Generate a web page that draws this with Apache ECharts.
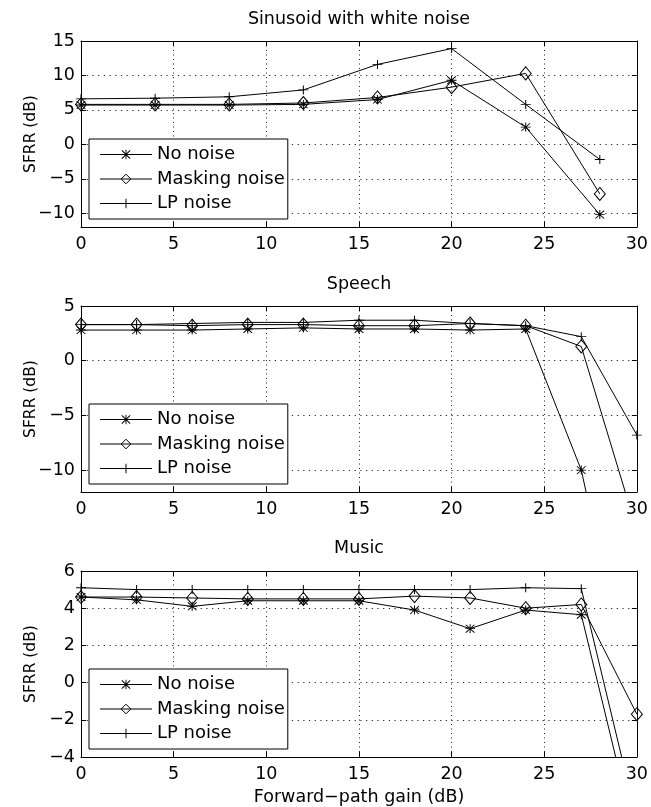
<!DOCTYPE html>
<html>
<head>
<meta charset="utf-8">
<script src="https://cdn.jsdelivr.net/npm/echarts@6/dist/echarts.min.js"></script>
<style>
html,body{margin:0;padding:0;background:#fff;}
#chart{width:651px;height:807px;}
</style>
</head>
<body>
<div id="chart"></div>
<script>
// ---- data ----
const panelTitles = ['Sinusoid with white noise', 'Speech', 'Music'];
const seriesNames = ['No noise', 'Masking noise', 'LP noise'];
const yLabel = 'SFRR (dB)';
const xLabel = 'Forward\u2212path gain (dB)';

const xSinusoid = [0, 4, 8, 12, 16, 20, 24, 28];
const sinNoNoise = [5.7, 5.7, 5.7, 5.8, 6.5, 9.3, 2.5, -10.2];
const sinMasking = [5.8, 5.8, 5.8, 6.0, 6.8, 8.3, 10.3, -7.2];
const sinLP = [6.6, 6.7, 6.9, 7.9, 11.6, 13.9, 5.8, -2.2];

const xSpeech = [0, 3, 6, 9, 12, 15, 18, 21, 24, 27, 30];
const speechNoNoise = [2.8, 2.8, 2.8, 2.9, 3.0, 2.9, 2.9, 2.8, 2.9, -10.0, -33];
const speechMasking = [3.3, 3.3, 3.2, 3.3, 3.3, 3.2, 3.2, 3.4, 3.2, 1.3, -15.5];
const speechLP = [3.3, 3.3, 3.4, 3.5, 3.5, 3.7, 3.7, 3.4, 3.2, 2.2, -6.8];

const xMusic = [0, 3, 6, 9, 12, 15, 18, 21, 24, 27, 30];
const musicNoNoise = [4.6, 4.45, 4.1, 4.4, 4.4, 4.4, 3.9, 2.9, 3.9, 3.65, -8.7];
const musicMasking = [4.6, 4.6, 4.55, 4.5, 4.5, 4.5, 4.65, 4.55, 4.0, 4.2, -1.7];
const musicLP = [5.1, 5.0, 5.0, 5.0, 5.0, 5.0, 5.0, 5.0, 5.1, 5.05, -7.4];

const xTicks = { min: 0, max: 30, step: 5 };
const yRanges = [
  { min: -12, max: 15, step: 5, split: 5 },
  { min: -12, max: 5, step: 5, split: 3 },
  { min: -4, max: 6, step: 2, split: 5 }
];

// ---- styles / layout ----
const FONT = 'DejaVu Sans';
const gridTops = [41, 306, 571];
const gridH = 186, gridL = 81, gridR = 14;
const titleY = [19, 284, 548];
const PLUS = 'path://M4.5,0h1v10h-1zM0,4.5h10v1h-10z';
const STAR = 'path://M4.5,0h1v10h-1zM0,4.5h10v1h-10zM1,0.3L9.7,9L9,9.7L0.3,1ZM9,0.3L9.7,1L1,9.7L0.3,9Z';
const markerDefs = [
  { symbol: STAR, size: [10, 9], item: { color: '#000', borderWidth: 0 } },
  { symbol: 'diamond', size: [11, 13], item: { color: 'rgba(0,0,0,0)', borderColor: '#000', borderWidth: 1 } },
  { symbol: PLUS, size: [10, 9], item: { color: '#000', borderWidth: 0 } }
];

const panels = [
  { x: xSinusoid, ys: [sinNoNoise, sinMasking, sinLP] },
  { x: xSpeech, ys: [speechNoNoise, speechMasking, speechLP] },
  { x: xMusic, ys: [musicNoNoise, musicMasking, musicLP] }
];

const fmt = v => String(v).replace('-', '\u2212');
const plotCX = gridL + (651 - gridL - gridR) / 2;

const grid = [], xAxis = [], yAxis = [], series = [], legend = [], graphic = [];
panels.forEach((p, g) => {
  grid.push({ left: gridL, right: gridR, top: gridTops[g], height: gridH });
  const r = yRanges[g];
  xAxis.push({
    type: 'value', gridIndex: g, position: 'bottom', min: xTicks.min, max: xTicks.max,
    minInterval: xTicks.step, maxInterval: xTicks.step,
    axisLine: { show: true, onZero: false, lineStyle: { color: '#000', width: 1 } },
    axisTick: { show: true, inside: true, length: 5, lineStyle: { color: '#000' } },
    axisLabel: { show: true, margin: 8, color: '#000', fontFamily: FONT, fontSize: 17.5, formatter: fmt },
    splitLine: { show: true, lineStyle: { color: '#222', width: 1, type: [1, 3.5] } }
  });
  xAxis.push({
    type: 'value', gridIndex: g, position: 'top', min: xTicks.min, max: xTicks.max,
    minInterval: xTicks.step, maxInterval: xTicks.step,
    axisLine: { show: true, onZero: false, lineStyle: { color: '#000', width: 1 } },
    axisTick: { show: true, inside: true, length: 5, lineStyle: { color: '#000' } },
    axisLabel: { show: false }, splitLine: { show: false }
  });
  yAxis.push({
    type: 'value', gridIndex: g, position: 'left', min: r.min, max: r.max, splitNumber: r.split,
    minInterval: r.step, maxInterval: r.step,
    axisLine: { show: true, onZero: false, lineStyle: { color: '#000', width: 1 } },
    axisTick: { show: true, inside: true, length: 5, lineStyle: { color: '#000' } },
    axisLabel: { show: true, margin: 6, color: '#000', fontFamily: FONT, fontSize: 17.5, formatter: fmt,
      showMinLabel: (r.min % r.step === 0) },
    splitLine: { show: true, lineStyle: { color: '#222', width: 1, type: [1.2, 4.5] } }
  });
  yAxis.push({
    type: 'value', gridIndex: g, position: 'right', min: r.min, max: r.max, splitNumber: r.split,
    minInterval: r.step, maxInterval: r.step,
    axisLine: { show: true, onZero: false, lineStyle: { color: '#000', width: 1 } },
    axisTick: { show: true, inside: true, length: 5, lineStyle: { color: '#000' } },
    axisLabel: { show: false }, splitLine: { show: false }
  });
  p.ys.forEach((ys, s) => {
    const m = markerDefs[s];
    series.push({
      name: seriesNames[s], type: 'line', xAxisIndex: g * 2, yAxisIndex: g * 2,
      data: p.x.map((xv, i) => [xv, ys[i]]),
      symbol: m.symbol, symbolSize: m.size, showSymbol: true, showAllSymbol: true,
      lineStyle: { color: '#000', width: 1 },
      itemStyle: m.item,
      clip: true, silent: true, animation: false, z: 3 + s,
      emphasis: { disabled: true }
    });
  });
  legend.push({
    data: seriesNames.map((n, s) => ({ name: n, itemStyle: { borderWidth: markerDefs[s].item.borderWidth } })),
    orient: 'vertical', left: 89, top: gridTops[g] + 98,
    itemWidth: 52, itemHeight: 12, itemGap: 6.5, padding: [6.5, 3, 6.5, 10.5],
    backgroundColor: '#fff', borderColor: '#000', borderWidth: 1, borderRadius: 0,
    lineStyle: { width: 1, color: '#000' },
    selectedMode: false, textStyle: { color: '#000', fontFamily: FONT, fontSize: 18 }
  });
  graphic.push({
    type: 'text', x: plotCX, y: titleY[g],
    style: { text: panelTitles[g], fill: '#000', font: '17.5px "' + FONT + '"', textAlign: 'center', textVerticalAlign: 'middle' }
  });
  graphic.push({
    type: 'text', x: 31, y: gridTops[g] + gridH / 2, rotation: Math.PI / 2,
    style: { text: yLabel, fill: '#000', font: '15.5px "' + FONT + '"', textAlign: 'center', textVerticalAlign: 'middle' }
  });
});
graphic.push({
  type: 'text', x: plotCX, y: 797,
  style: { text: xLabel, fill: '#000', font: '17.5px "' + FONT + '"', textAlign: 'center', textVerticalAlign: 'middle' }
});

const chart = echarts.init(document.getElementById('chart'), null, { renderer: 'canvas' });
chart.setOption({
  animation: false,
  backgroundColor: '#fff',
  grid, xAxis, yAxis, series, legend, graphic
});
</script>
</body>
</html>
